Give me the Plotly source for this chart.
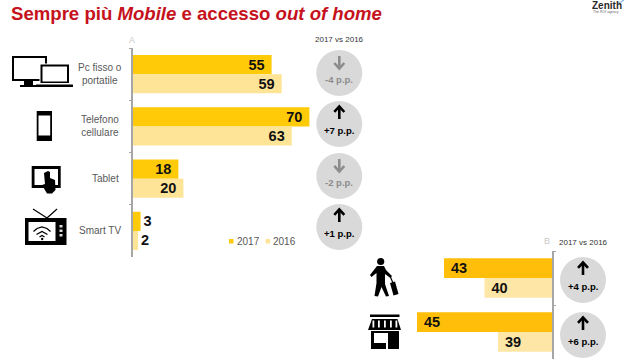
import plotly.graph_objects as go

# ---- data ----
categories_a = ["Pc fisso o<br>portatile", "Telefono<br>cellulare", "Tablet", "Smart TV"]
values_a_2017 = [55, 70, 18, 3]
values_a_2016 = [59, 63, 20, 2]
categories_b = ["In viaggio", "Nei negozi"]
values_b_2017 = [43, 45]
values_b_2016 = [40, 39]
deltas_a = ["-4 p.p.", "+7 p.p.", "-2 p.p.", "+1 p.p."]
deltas_b = ["+4 p.p.", "+6 p.p."]
series_names = ["2017", "2016"]

W, H = 640, 360
FONT = "Liberation Sans"
C17A, C16A = "#FFCA08", "#FEE496"
C17B, C16B = "#FFBE0A", "#FEE6A6"
CIRCLE = "#D9D9D9"
AXIS = "#A6A6A6"
TXT = "#595959"
INK = "#111111"


def X(p):
    return p / W


def Y(p):
    return 1 - p / H


def path(points, close=True):
    s = "M" + " L".join(f"{X(a):.5f},{Y(b):.5f}" for a, b in points)
    return s + (" Z" if close else "")


shapes = []


def poly(points, fill="black"):
    shapes.append(dict(type="path", xref="paper", yref="paper", path=path(points),
                       fillcolor=fill, line=dict(width=0), layer="above"))


def stroke(points, color="black", width=1.5):
    shapes.append(dict(type="path", xref="paper", yref="paper", path=path(points, False),
                       line=dict(color=color, width=width), layer="above"))


def rect(x0, y0, x1, y1, fill="black"):
    shapes.append(dict(type="rect", xref="paper", yref="paper", x0=X(x0), x1=X(x1), y0=Y(y0), y1=Y(y1),
                       fillcolor=fill, line=dict(width=0), layer="above"))


def circle(cx, cy, r, fill):
    shapes.append(dict(type="circle", xref="paper", yref="paper", x0=X(cx - r), x1=X(cx + r),
                       y0=Y(cy - r), y1=Y(cy + r), fillcolor=fill, line=dict(width=0), layer="above"))


annotations = []


def label(x, y, text, size=10, color=TXT, xanchor="center", **kw):
    annotations.append(dict(xref="paper", yref="paper", x=X(x), y=Y(y), text=text, showarrow=False,
                            xanchor=xanchor, yanchor="middle", align="center",
                            font=dict(family=FONT, size=size, color=color), **kw))


def badge(cx, cy, text):
    up = text.startswith("+")
    col = "#000000" if up else "#8C8C8C"
    circle(cx, cy, 23, CIRCLE)
    if up:
        stroke([(cx, cy - 5), (cx, cy - 17)], col, 2.6)
        stroke([(cx - 5, cy - 12), (cx, cy - 17.5), (cx + 5, cy - 12)], col, 2.6)
    else:
        stroke([(cx, cy - 17), (cx, cy - 5)], col, 2.6)
        stroke([(cx - 5, cy - 10), (cx, cy - 4.5), (cx + 5, cy - 10)], col, 2.6)
    label(cx, cy + 6.5, f"<b>{text}</b>", 9.5, col)


# ---- bars ----
fig = go.Figure()
pos_a = ["inside", "inside", "inside", "outside"]
fig.add_bar(y=categories_a, x=values_a_2017, name=series_names[0], orientation="h", marker_color=C17A,
            text=values_a_2017, textposition=pos_a, xaxis="x", yaxis="y",
            texttemplate="<b>%{text}</b>&nbsp;")
fig.add_bar(y=categories_a, x=values_a_2016, name=series_names[1], orientation="h", marker_color=C16A,
            text=values_a_2016, textposition=pos_a, xaxis="x", yaxis="y",
            texttemplate="<b>%{text}</b>&nbsp;")
fig.add_bar(y=categories_b, x=values_b_2017, name=series_names[0], orientation="h", marker_color=C17B,
            text=values_b_2017, textposition="inside", xaxis="x2", yaxis="y2",
            texttemplate="&nbsp;<b>%{text}</b>")
fig.add_bar(y=categories_b, x=values_b_2016, name=series_names[1], orientation="h", marker_color=C16B,
            text=values_b_2016, textposition="inside", xaxis="x2", yaxis="y2",
            texttemplate="&nbsp;<b>%{text}</b>")
fig.update_traces(insidetextanchor="end", cliponaxis=False, showlegend=False, hoverinfo="skip",
                  marker_line_width=0, constraintext="none",
                  textfont=dict(family=FONT, size=14.5, color=INK))

# ---- category labels ----
label_x = [100, 100, 105, 100]
for cat, lx in zip(categories_a, label_x):
    annotations.append(dict(xref="paper", yref="y", x=X(lx), y=cat, text=cat, showarrow=False,
                            xanchor="center", yanchor="middle", align="center",
                            font=dict(family=FONT, size=10, color=TXT)))

# ---- badges ----
for d, cy in zip(deltas_a, [73, 124, 176, 227]):
    badge(339.3, cy, d)
for d, cy in zip(deltas_b, [280, 335]):
    badge(583, cy, d)

# ---- text ----
label(9, 13.5, "<b>Sempre più <i>Mobile</i> e accesso <i>out of home</i></b>", 18.6, "#C5121C", xanchor="left")
label(339, 39, "2017 vs 2016", 8, "#333333")
label(583, 242, "2017 vs 2016", 8, "#333333")
label(132, 40, "A", 9, "#C8C8C8")
label(547, 241, "B", 9, "#C8C8C8")

# ---- legend ----
rect(229, 239, 233.5, 243.5, C17A)
label(235, 241.3, series_names[0], 10, TXT, xanchor="left")
rect(265.5, 239, 270, 243.5, C16A)
label(271, 241.3, series_names[1], 10, TXT, xanchor="left")

# ---- logo ----
label(607, 5.5, "<b>Zenith</b>", 10, "#2B2B2B")
label(606, 12.5, "The ROI agency", 3.5, "#666666")
stroke([(617, 2.5), (621, 2), (624, 0)], "#7FB2DC", 1.2)

# ---- icons: monitor + laptop ----
rect(12, 56, 47, 81)
rect(14, 58, 45, 79, "white")
rect(24, 81, 33, 85)
rect(20, 85, 37, 87)
rect(39.5, 63.5, 69, 84, "white")
rect(40.5, 64.5, 69, 83)
rect(42.5, 66.5, 67, 81.5, "white")
rect(36, 84.5, 73, 87)
# phone
rect(36.7, 111, 52, 141)
rect(38.5, 115.5, 50.2, 135.5, "white")
# tablet + hand
rect(31.7, 166, 60.7, 188)
rect(34.5, 169, 58, 185, "white")
poly([(44, 173), (48, 171), (50, 172), (50, 178), (55, 180), (55.5, 190), (52, 193.5), (47, 193.5), (42, 185), (45, 184)])
# tv
stroke([(47, 218), (33, 209)], "black", 1.2)
stroke([(47, 218), (57, 209)], "black", 1.2)
rect(25, 218, 66.5, 245)
rect(28.5, 222, 55.5, 241, "white")
stroke([(33.5, 231.5), (37, 228.5), (42, 227), (47, 228.5), (50.5, 231.5)], "black", 1.3)
stroke([(36.5, 234.5), (42, 231.5), (47.5, 234.5)], "black", 1.3)
stroke([(39.5, 237), (42, 235.5), (44.5, 237)], "black", 1.2)
circle(42.2, 239, 1.2, "black")
for yb in (225, 229.5, 234):
    rect(59.5, yb, 62.5, yb + 2.5, "#DDDDDD")

# ---- icons: walker ----
circle(380.7, 261.5, 3.6, "black")
poly([(377, 266), (384, 266), (386, 270), (392, 276), (390.5, 278), (385, 274), (385, 284), (389, 296), (386, 296.5),
      (381.5, 287), (378, 296.5), (374.5, 296), (376.5, 283), (376.5, 273), (371.5, 277), (370, 275)])
stroke([(390, 276), (393, 283)], "black", 1.2)
poly([(390, 283), (395, 281.5), (398.5, 294), (393.5, 295.5)])

# ---- icons: shop ----
rect(370, 314.5, 399.5, 317)
poly([(372, 319), (397.5, 319), (401, 330), (368, 330)])
for bx in (372.5, 378, 384, 390, 395.5):
    rect(bx, 320.5, bx + 1.8, 327.5, "white")
rect(371, 331, 399, 349)
rect(374, 333, 386, 343, "white")
rect(386, 333, 388, 349, "white")

fig.update_layout(
    width=W, height=H, autosize=False, margin=dict(l=0, r=0, t=0, b=0),
    paper_bgcolor="white", plot_bgcolor="white", barmode="group",
    bargap=0.27, bargroupgap=0, showlegend=False,
    shapes=shapes, annotations=annotations,
    xaxis=dict(domain=[X(133), X(133 + 2.52 * 74)], range=[0, 74], visible=False, fixedrange=True),
    yaxis=dict(domain=[Y(257), Y(48)], autorange="reversed", anchor="x", type="category",
               showticklabels=False, ticks="outside", ticklen=2, tickcolor=AXIS, tickson="boundaries",
               showline=True, linecolor=AXIS, linewidth=1.5, showgrid=False, zeroline=False),
    xaxis2=dict(domain=[X(552 - 13.5 * 10.5), X(552)], range=[45.5, 35], visible=False, fixedrange=True),
    yaxis2=dict(domain=[Y(359), Y(251)], autorange="reversed", anchor="x2", side="right", type="category",
                showticklabels=False, ticks="outside", ticklen=2, tickcolor=AXIS, tickson="boundaries",
                showline=True, linecolor=AXIS, linewidth=1.5, showgrid=False, zeroline=False),
)

fig.write_html("out.html", config={"displayModeBar": False}, post_script="document.body.style.margin='0';")
